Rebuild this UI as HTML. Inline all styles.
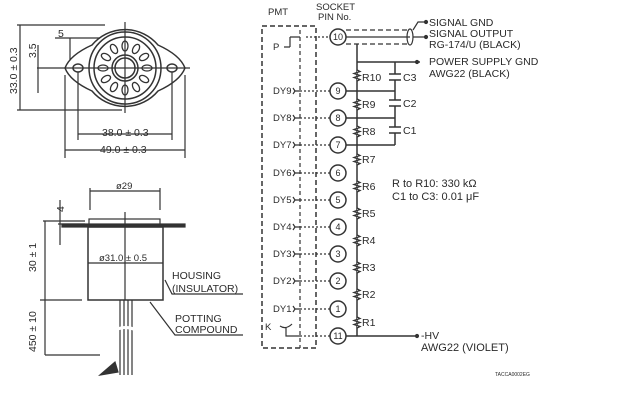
<!DOCTYPE html>
<html><head><style>
body{margin:0;background:#fff;}
svg{display:block;font-family:"Liberation Sans",sans-serif;}
text{fill:#2a2a2a;stroke:none;font-size:9.5px;}
.L{font-size:10.5px;}
</style></head><body>
<svg width="622" height="400" viewBox="0 0 622 400" stroke="#333" fill="none" stroke-width="1.2">
<!-- socket top view -->
<g stroke-width="1.5">
<path d="M65 68 Q70 55 92 45 A43 43 0 0 1 158 45 Q180 55 185 68 Q180 81 158 91 A43 43 0 0 1 92 91 Q70 81 65 68 Z"/>
<circle cx="125" cy="68" r="36"/>
<circle cx="125" cy="68" r="31"/>
<circle cx="125" cy="68" r="13"/>
<circle cx="125" cy="68" r="10"/>
<ellipse cx="78" cy="68" rx="5" ry="4"/>
<ellipse cx="172" cy="68" rx="5" ry="4"/>
</g>
<g stroke-width="1.3">
<ellipse cx="125" cy="46" rx="3" ry="5"/>
<ellipse cx="125" cy="46" rx="3" ry="5" transform="rotate(30 125 68)"/>
<ellipse cx="125" cy="46" rx="3" ry="5" transform="rotate(60 125 68)"/>
<ellipse cx="125" cy="46" rx="3" ry="5" transform="rotate(90 125 68)"/>
<ellipse cx="125" cy="46" rx="3" ry="5" transform="rotate(120 125 68)"/>
<ellipse cx="125" cy="46" rx="3" ry="5" transform="rotate(150 125 68)"/>
<ellipse cx="125" cy="46" rx="3" ry="5" transform="rotate(180 125 68)"/>
<ellipse cx="125" cy="46" rx="3" ry="5" transform="rotate(210 125 68)"/>
<ellipse cx="125" cy="46" rx="3" ry="5" transform="rotate(240 125 68)"/>
<ellipse cx="125" cy="46" rx="3" ry="5" transform="rotate(270 125 68)"/>
<ellipse cx="125" cy="46" rx="3" ry="5" transform="rotate(300 125 68)"/>
<ellipse cx="125" cy="46" rx="3" ry="5" transform="rotate(330 125 68)"/>
</g>
<path d="M125 22 V113 M37 68 H190 M17 25 H105 M17 110 H122 M20 25 V110 M38 45 V93 M55 38 H100 M70 38 V60 M78 72 V140 M172 72 V140 M65 75 V158 M185 75 V158 M78 134 H172 M65 150 H185"/>
<text x="102" y="136" class="L">38.0 ± 0.3</text>
<text x="100" y="153" class="L">49.0 ± 0.3</text>
<text x="58" y="37" class="L">5</text>
<text transform="translate(17,94) rotate(-90)" class="L">33.0 ± 0.3</text>
<text transform="translate(36,58) rotate(-90)" class="L">3.5</text>
<!-- side view -->
<path d="M90 191 H160 M90 188 V210 M160 188 V210"/>
<text x="116" y="189">ø29</text>
<rect x="89" y="219" width="71" height="6"/>
<rect x="62" y="224" width="123" height="3" fill="#333"/>
<rect x="88" y="227" width="75" height="73" stroke-width="1.5"/>
<path d="M125 212 V300 M88 263 H163 M43 221 H85 M45 221 V300 M40 300 H82 M45 300 V355 M45 355 H100 M60 200 V245 M58 224 H85"/>
<text x="99" y="261">ø31.0 ± 0.5</text>
<text x="56" y="212" class="L" transform="rotate(-90 60 208)">4</text>
<text transform="translate(36,272) rotate(-90)" class="L">30 ± 1</text>
<text transform="translate(36,352) rotate(-90)" class="L">450 ± 10</text>
<path d="M120 300 V375 M124 300 V375 M128 300 V375 M132 300 V375"/>
<path d="M116 330 Q125 325 136 330" stroke="#fff" stroke-width="3"/>
<path d="M100 375 L115 362 L118 372 Z" fill="#333"/>
<path d="M165 280 L172 294 H243 M150 302 L175 335 H243"/>
<text x="172" y="279" class="L">HOUSING</text>
<text x="172" y="292" class="L">(INSULATOR)</text>
<text x="175" y="322" class="L">POTTING</text>
<text x="175" y="333" class="L">COMPOUND</text>
<!-- schematic -->
<text x="268" y="15">PMT</text>
<text x="316" y="10">SOCKET</text>
<text x="318" y="20">PIN No.</text>
<rect x="262" y="26" width="54" height="322" stroke-dasharray="5 3" stroke-width="1.5"/>
<path d="M300 30 V348" stroke-dasharray="4 3"/>
<g stroke-width="1.5">
<circle cx="338" cy="37" r="8"/><circle cx="338" cy="91" r="8"/><circle cx="338" cy="118" r="8"/>
<circle cx="338" cy="145" r="8"/><circle cx="338" cy="173" r="8"/><circle cx="338" cy="200" r="8"/>
<circle cx="338" cy="227" r="8"/><circle cx="338" cy="254" r="8"/><circle cx="338" cy="281" r="8"/>
<circle cx="338" cy="309" r="8"/><circle cx="338" cy="336" r="8"/>
</g>
<g style="font-size:9px" text-anchor="middle">
<text x="338" y="40" style="font-size:9px">10</text><text x="338" y="94" style="font-size:9px">9</text><text x="338" y="121" style="font-size:9px">8</text><text x="338" y="148" style="font-size:9px">7</text>
<text x="338" y="176" style="font-size:9px">6</text><text x="338" y="203" style="font-size:9px">5</text><text x="338" y="230" style="font-size:9px">4</text><text x="338" y="257" style="font-size:9px">3</text>
<text x="338" y="284" style="font-size:9px">2</text><text x="338" y="312" style="font-size:9px">1</text><text x="338" y="339" style="font-size:9px">11</text>
</g>
<path d="M306 37 H330" stroke-dasharray="2 2"/>
<path d="M290 37 H300 M290 37 V47 M284 47 H290"/>
<text x="273" y="50">P</text>
<path d="M346 37 H410" />
<path d="M346 30 H410 M346 44 H410" stroke-dasharray="5 3"/>
<ellipse cx="410" cy="37" rx="3" ry="8"/>
<path d="M413 30 L418 22 H425 M413 37 H425"/>
<circle cx="426" cy="22" r="1.5" fill="#333"/><circle cx="426" cy="37" r="1.5" fill="#333"/>
<text x="429" y="26" class="L">SIGNAL GND</text>
<text x="429" y="37" class="L">SIGNAL OUTPUT</text>
<text x="429" y="48" class="L">RG-174/U (BLACK)</text>
<path d="M357 44 V336 M357 62 H420 M395 62 V145 M346 91 H395 M346 118 H395 M346 145 H395 M346 336 H415" stroke-width="1.5"/>
<circle cx="417" cy="62" r="1.5" fill="#333"/><circle cx="417" cy="336" r="1.5" fill="#333"/>
<text x="429" y="65" class="L">POWER SUPPLY GND</text>
<text x="429" y="77" class="L">AWG22 (BLACK)</text>
<g fill="#fff" stroke="none">
<rect x="390" y="74" width="10" height="6"/><rect x="390" y="100" width="10" height="6"/><rect x="390" y="127" width="10" height="6"/>
</g>
<path d="M389 74 H401 M389 80 H401 M389 100 H401 M389 106 H401 M389 127 H401 M389 133 H401" stroke-width="1.5"/>
<text x="403" y="81" class="L">C3</text><text x="403" y="107" class="L">C2</text><text x="403" y="134" class="L">C1</text>
<g stroke-width="1.3" fill="#fff">
<path d="M357 70 l3 1.5 l-6 2 l6 2 l-6 2 l6 2 l-3 1.5"/>
<path d="M357 99 l3 1.5 l-6 2 l6 2 l-6 2 l6 2 l-3 1.5"/>
<path d="M357 126 l3 1.5 l-6 2 l6 2 l-6 2 l6 2 l-3 1.5"/>
<path d="M357 154 l3 1.5 l-6 2 l6 2 l-6 2 l6 2 l-3 1.5"/>
<path d="M357 181 l3 1.5 l-6 2 l6 2 l-6 2 l6 2 l-3 1.5"/>
<path d="M357 208 l3 1.5 l-6 2 l6 2 l-6 2 l6 2 l-3 1.5"/>
<path d="M357 235 l3 1.5 l-6 2 l6 2 l-6 2 l6 2 l-3 1.5"/>
<path d="M357 262 l3 1.5 l-6 2 l6 2 l-6 2 l6 2 l-3 1.5"/>
<path d="M357 289 l3 1.5 l-6 2 l6 2 l-6 2 l6 2 l-3 1.5"/>
<path d="M357 317 l3 1.5 l-6 2 l6 2 l-6 2 l6 2 l-3 1.5"/>
</g>
<g>
<text x="362" y="81" class="L">R10</text><text x="362" y="108" class="L">R9</text><text x="362" y="135" class="L">R8</text><text x="362" y="163" class="L">R7</text>
<text x="362" y="190" class="L">R6</text><text x="362" y="217" class="L">R5</text><text x="362" y="244" class="L">R4</text><text x="362" y="271" class="L">R3</text>
<text x="362" y="298" class="L">R2</text><text x="362" y="326" class="L">R1</text>
</g>
<text x="392" y="187" style="font-size:11px">R to R10: 330 kΩ</text>
<text x="392" y="200" style="font-size:11px">C1 to C3: 0.01 μF</text>
<text x="421" y="339" class="L">-HV</text>
<text x="421" y="351" style="font-size:11px">AWG22 (VIOLET)</text>
<text x="495" y="376" style="font-size:5px">TACCA0002EG</text>
<!-- dynodes -->
<g>
<text x="273" y="94">DY9</text><text x="273" y="121">DY8</text><text x="273" y="148">DY7</text><text x="273" y="176">DY6</text>
<text x="273" y="203">DY5</text><text x="273" y="230">DY4</text><text x="273" y="257">DY3</text><text x="273" y="284">DY2</text>
<text x="273" y="312">DY1</text><text x="265" y="330">K</text>
</g>
<path d="M295 91 H300 M295 118 H300 M295 145 H300 M295 173 H300 M295 200 H300 M295 227 H300 M295 254 H300 M295 281 H300 M295 309 H300"/>
<path d="M293 88 l2 3 l-2 3 M293 115 l2 3 l-2 3 M293 142 l2 3 l-2 3 M293 170 l2 3 l-2 3 M293 197 l2 3 l-2 3 M293 224 l2 3 l-2 3 M293 251 l2 3 l-2 3 M293 278 l2 3 l-2 3 M293 306 l2 3 l-2 3"/>
<path d="M300 91 H330 M300 118 H330 M300 145 H330 M300 173 H330 M300 200 H330 M300 227 H330 M300 254 H330 M300 281 H330 M300 309 H330 M300 336 H330" stroke-dasharray="2 2"/>
<path d="M280 326 Q286 330 292 324 M286 328 V336 H300"/>
</svg>
</body></html>
